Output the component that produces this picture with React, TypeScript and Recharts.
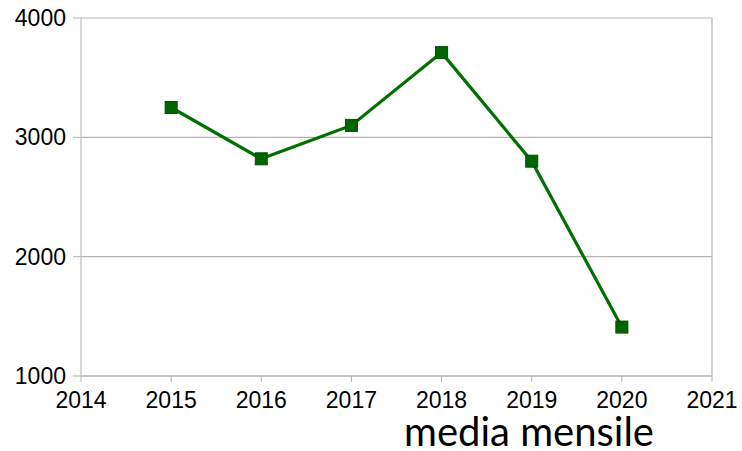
import { LineChart, Line, XAxis, YAxis, CartesianGrid, ReferenceLine } from 'recharts'

const years = [2015, 2016, 2017, 2018, 2019, 2020]
const values = [3250, 2820, 3100, 3710, 2800, 1410]
const xTicks = [2014, 2015, 2016, 2017, 2018, 2019, 2020, 2021]
const yTicks = [1000, 2000, 3000, 4000]
const seriesName = 'media mensile'

const data = years.map((year, i) => ({ year, value: values[i] }))

const axisColor = '#b3b3b3'
const tickFont = { fill: '#000', fontSize: 23, fontFamily: '"Liberation Sans", Arial, sans-serif' }

// square marker like the spreadsheet export
const SquareDot = (props: any) => {
    const { cx, cy } = props
    if (cx == null || cy == null) return null
    return <rect x={cx - 6} y={cy - 6} width={12} height={12} fill="#006400" stroke="#005000" strokeWidth={1} />
}

const App = () => {
    return (
        <div style={{ position: 'absolute', left: 0, top: 0, width: 742, height: 451, background: '#fff' }}>
            <LineChart width={742} height={451} data={data} margin={{ top: 18, right: 30, left: 0, bottom: 0 }}>
                <CartesianGrid horizontal vertical={false} stroke={axisColor} strokeWidth={1.2} />
                <XAxis
                    dataKey="year"
                    type="number"
                    domain={[2014, 2021]}
                    ticks={xTicks}
                    height={75}
                    stroke={axisColor}
                    tickSize={6}
                    tickMargin={10}
                    tick={tickFont}
                    allowDecimals={false}
                />
                <YAxis
                    type="number"
                    domain={[1000, 4000]}
                    ticks={yTicks}
                    width={81}
                    stroke={axisColor}
                    tickSize={8}
                    tickMargin={7}
                    tick={tickFont}
                />
                <ReferenceLine x={2021} stroke={axisColor} strokeWidth={1.2} />
                <Line
                    type="linear"
                    dataKey="value"
                    name={seriesName}
                    stroke="#007000"
                    strokeWidth={3.2}
                    dot={<SquareDot />}
                    activeDot={false}
                    isAnimationActive={false}
                />
            </LineChart>
            <div
                style={{
                    position: 'absolute',
                    left: 404,
                    top: 416,
                    fontFamily: 'Lato, "Open Sans", sans-serif',
                    fontSize: 40,
                    lineHeight: '30px',
                    color: '#000',
                    whiteSpace: 'nowrap',
                }}
            >
                {seriesName}
            </div>
        </div>
    )
}

export default App
